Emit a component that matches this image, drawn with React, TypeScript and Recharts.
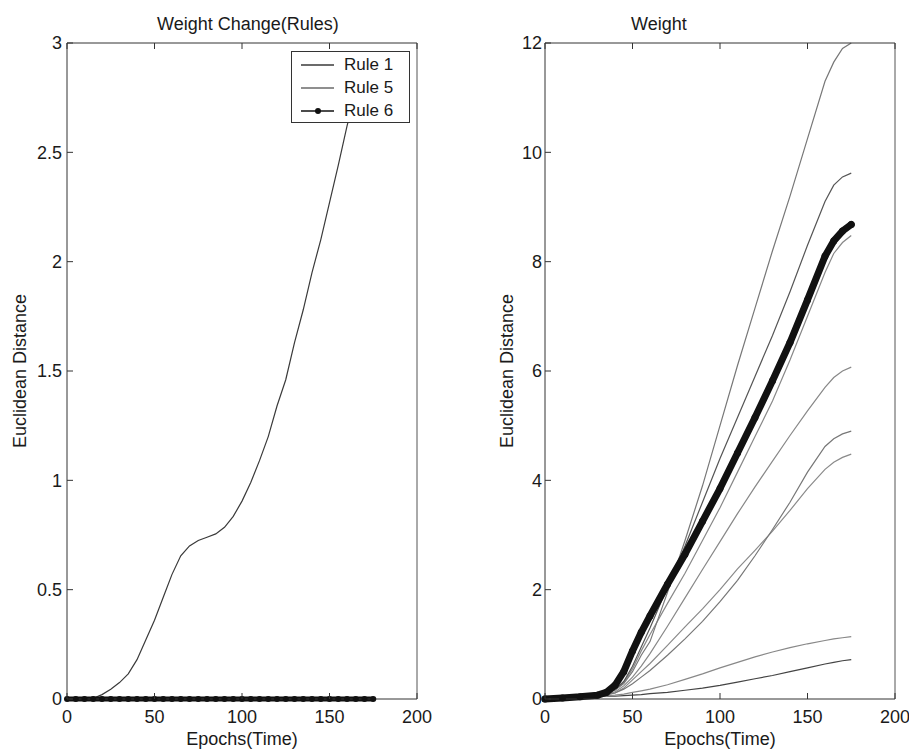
import React from "react";
import { LineChart, Line, XAxis, YAxis, Legend } from "recharts";

// left panel: single-weight rules
const epochsL = [0, 5, 10, 15, 20, 25, 30, 35, 40, 45, 50, 55, 60, 65, 70, 75, 80, 85, 90, 95, 100, 105, 110, 115, 120, 125, 130, 135, 140, 145, 150, 155, 160, 165, 170, 175];
const rule1 = [0, 0, 0, 0.003, 0.02, 0.045, 0.075, 0.115, 0.18, 0.27, 0.36, 0.465, 0.57, 0.655, 0.7, 0.725, 0.74, 0.755, 0.785, 0.835, 0.905, 0.99, 1.09, 1.2, 1.34, 1.46, 1.63, 1.78, 1.95, 2.1, 2.27, 2.44, 2.62, 2.78, 2.88, 2.95];
const rule5 = [0, 0, 0, 0, 0, 0, 0, 0, 0, 0, 0, 0, 0, 0, 0, 0, 0, 0, 0, 0, 0, 0, 0, 0, 0, 0, 0, 0, 0, 0, 0, 0, 0, 0, 0, 0];
const rule6 = [0, 0, 0, 0, 0, 0, 0, 0, 0, 0, 0, 0, 0, 0, 0, 0, 0, 0, 0, 0, 0, 0, 0, 0, 0, 0, 0, 0, 0, 0, 0, 0, 0, 0, 0, 0];

// right panel: individual weights
const epochsR = [0, 10, 20, 30, 35, 40, 45, 50, 55, 60, 70, 80, 90, 100, 110, 120, 130, 140, 150, 160, 165, 170, 175];
const wA = [0, 0.02, 0.05, 0.1, 0.12, 0.16, 0.28, 0.5, 0.8, 1.05, 1.95, 2.9, 3.9, 5.0, 6.1, 7.15, 8.2, 9.2, 10.25, 11.3, 11.65, 11.9, 12.0];
const wB = [0, 0.02, 0.05, 0.09, 0.12, 0.17, 0.32, 0.6, 0.95, 1.3, 2.05, 2.8, 3.6, 4.4, 5.15, 5.9, 6.65, 7.45, 8.3, 9.1, 9.4, 9.55, 9.62];
const wC = [0, 0.02, 0.04, 0.08, 0.11, 0.17, 0.3, 0.55, 0.88, 1.18, 1.75, 2.3, 2.9, 3.5, 4.15, 4.8, 5.45, 6.2, 7.0, 7.8, 8.15, 8.35, 8.48];
const wD = [0, 0.02, 0.04, 0.07, 0.09, 0.13, 0.24, 0.4, 0.6, 0.83, 1.33, 1.85, 2.37, 2.88, 3.39, 3.88, 4.35, 4.82, 5.27, 5.7, 5.88, 6.0, 6.07];
const wE = [0, 0.02, 0.04, 0.06, 0.08, 0.11, 0.18, 0.28, 0.4, 0.52, 0.8, 1.1, 1.42, 1.78, 2.17, 2.62, 3.1, 3.6, 4.15, 4.62, 4.76, 4.85, 4.9];
const wF = [0, 0.02, 0.04, 0.06, 0.08, 0.11, 0.2, 0.35, 0.5, 0.65, 0.98, 1.32, 1.65, 2.0, 2.38, 2.72, 3.07, 3.45, 3.85, 4.2, 4.33, 4.42, 4.48];
const wG = [0, 0.02, 0.03, 0.05, 0.06, 0.07, 0.09, 0.12, 0.15, 0.18, 0.26, 0.36, 0.46, 0.57, 0.67, 0.77, 0.86, 0.94, 1.01, 1.07, 1.1, 1.12, 1.14];
const wH = [0, 0.02, 0.03, 0.04, 0.05, 0.05, 0.06, 0.07, 0.08, 0.1, 0.12, 0.16, 0.2, 0.25, 0.31, 0.37, 0.43, 0.5, 0.57, 0.64, 0.67, 0.7, 0.72];
const wBold = [0, 0.02, 0.04, 0.07, 0.12, 0.25, 0.5, 0.88, 1.22, 1.52, 2.1, 2.65, 3.25, 3.85, 4.5, 5.15, 5.82, 6.52, 7.3, 8.1, 8.38, 8.56, 8.68];

const xTicks = [0, 50, 100, 150, 200];
const yTicksL = [0, 0.5, 1, 1.5, 2, 2.5, 3];
const yTicksR = [0, 2, 4, 6, 8, 10, 12];

const leftData = epochsL.map((e, i) => ({ epoch: e, r1: rule1[i], r5: rule5[i], r6: rule6[i] }));
const rightData = epochsR.map((e, i) => ({
  epoch: e, a: wA[i], b: wB[i], c: wC[i], d: wD[i], e2: wE[i], f: wF[i], g: wG[i], h: wH[i], bold: wBold[i],
}));

const FONT = '"Liberation Sans", Arial, Helvetica, sans-serif';
const AX = "#333";
const TXT = "#1a1a1a";

const BottomTick = ({ x, y, payload }: any) => (
  <g>
    <line x1={x} y1={y} x2={x} y2={y - 6} stroke={AX} />
    <text x={x} y={y + 24} textAnchor="middle" fontSize={18} fontFamily={FONT} fill={TXT}>
      {payload.value}
    </text>
  </g>
);
const TopTick = ({ x, y }: any) => <line x1={x} y1={y} x2={x} y2={y + 6} stroke={AX} />;
const LeftTick = ({ x, y, payload, gap }: any) => (
  <g>
    <line x1={x} y1={y} x2={x + 6} y2={y} stroke={AX} />
    <text x={x - gap} y={y} dy="0.36em" textAnchor="end" fontSize={18} fontFamily={FONT} fill={TXT}>
      {payload.value}
    </text>
  </g>
);
const RightTick = ({ x, y }: any) => <line x1={x} y1={y} x2={x - 6} y2={y} stroke={AX} />;

const RuleLegend = ({ payload }: any) => (
  <div
    style={{
      width: 119, height: 72, border: `1px solid ${AX}`, background: "#fff", boxSizing: "border-box",
      fontFamily: FONT, fontSize: 17, color: TXT, paddingTop: 1,
    }}
  >
    {(payload || []).map((p: any) => (
      <div key={p.value} style={{ height: 23, display: "flex", alignItems: "center" }}>
        <svg width={52} height={20}>
          <line x1={9} x2={42} y1={10} y2={10} stroke={p.value === "Rule 6" ? "#111" : p.color} strokeWidth={1.3} />
          {p.value === "Rule 6" && <circle cx={26} cy={10} r={3} fill="#111" />}
        </svg>
        <span>{p.value}</span>
      </div>
    ))}
  </div>
);

function Axes({ yTicks, yMax, gap }: { yTicks: number[]; yMax: number; gap: number }) {
  return [
    <XAxis key="xb" xAxisId="b" type="number" dataKey="epoch" domain={[0, 200]} ticks={xTicks} interval={0}
      orientation="bottom" height={30} tickSize={0} tickMargin={0} tick={<BottomTick />} axisLine={{ stroke: AX }} tickLine={false} />,
    <XAxis key="xt" xAxisId="t" type="number" dataKey="epoch" domain={[0, 200]} ticks={xTicks} interval={0}
      orientation="top" height={10} tickSize={0} tickMargin={0} tick={<TopTick />} axisLine={{ stroke: AX }} tickLine={false} />,
    <YAxis key="yl" yAxisId="l" type="number" domain={[0, yMax]} ticks={yTicks} interval={0}
      orientation="left" width={60} tickSize={0} tickMargin={0} tick={<LeftTick gap={gap} />} axisLine={{ stroke: AX }} tickLine={false} />,
    <YAxis key="yr" yAxisId="r" type="number" domain={[0, yMax]} ticks={yTicks} interval={0}
      orientation="right" width={10} tickSize={0} tickMargin={0} tick={<RightTick />} axisLine={{ stroke: "#555" }} tickLine={false} />,
  ];
}

const thin = (key: string, color: string, name?: string) => (
  <Line key={key} xAxisId="b" yAxisId="l" dataKey={key} name={name} type="linear" stroke={color}
    strokeWidth={1.2} dot={false} isAnimationActive={false} />
);

export default function App() {
  return (
    <div style={{ position: "absolute", left: 0, top: 0, width: 909, height: 749, background: "#fff" }}>
      <div style={{ position: "absolute", left: 0, top: 0 }}>
        <LineChart width={460} height={749} data={leftData} margin={{ top: 33, right: 33, bottom: 20, left: 7 }}>
          {Axes({ yTicks: yTicksL, yMax: 3, gap: 5 })}
          {thin("r1", "#3a3a3a", "Rule 1")}
          {thin("r5", "#6a6a6a", "Rule 5")}
          <Line xAxisId="b" yAxisId="l" dataKey="r6" name="Rule 6" type="linear" stroke="#111" strokeWidth={5}
            dot={{ r: 3, fill: "#111", stroke: "#111", strokeWidth: 0 }} isAnimationActive={false} />
          <Legend layout="vertical" align="center" verticalAlign="middle" content={<RuleLegend />}
            wrapperStyle={{ position: "absolute", left: 291, top: 51, width: 119, height: 72 }} />
        </LineChart>
      </div>
      <div style={{ position: "absolute", left: 460, top: 0 }}>
        <LineChart width={449} height={749} data={rightData} margin={{ top: 33, right: 4, bottom: 20, left: 25 }}>
          {Axes({ yTicks: yTicksR, yMax: 12, gap: 3 })}
          {thin("h", "#444")}
          {thin("g", "#888")}
          {thin("f", "#8a8a8a")}
          {thin("e2", "#777")}
          {thin("d", "#888")}
          {thin("c", "#888")}
          {thin("b", "#555")}
          {thin("a", "#777")}
          <Line xAxisId="b" yAxisId="l" dataKey="bold" type="linear" stroke="#111" strokeWidth={7}
            strokeLinejoin="round" strokeLinecap="round"
            dot={{ r: 3.5, fill: "#111", stroke: "#111", strokeWidth: 0 }} isAnimationActive={false} />
        </LineChart>
      </div>
      <svg width={909} height={749} style={{ position: "absolute", left: 0, top: 0, pointerEvents: "none" }}
        fontFamily={FONT} fill={TXT} fontSize={18}>
        <text x={248} y={30} textAnchor="middle">Weight Change(Rules)</text>
        <text x={631} y={30}>Weight</text>
        <text x={242} y={745} textAnchor="middle">Epochs(Time)</text>
        <text x={720} y={745} textAnchor="middle">Epochs(Time)</text>
        <text transform="translate(26,371) rotate(-90)" textAnchor="middle">Euclidean Distance</text>
        <text transform="translate(513,371) rotate(-90)" textAnchor="middle">Euclidean Distance</text>
      </svg>
    </div>
  );
}
